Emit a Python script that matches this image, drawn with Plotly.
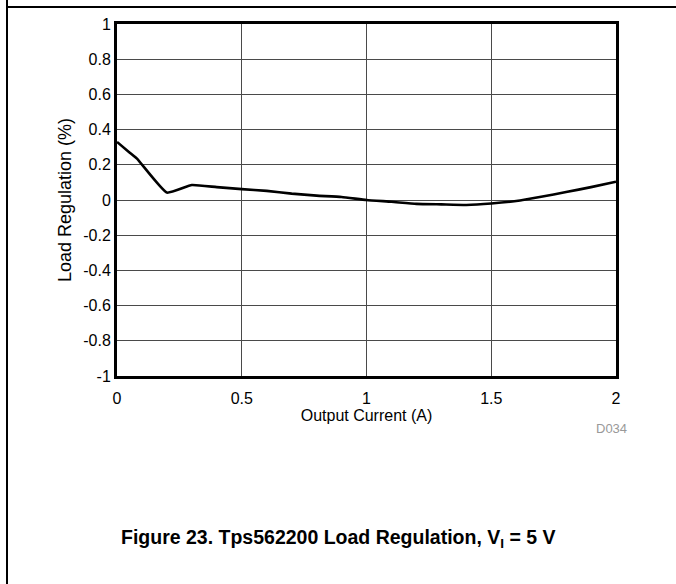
import plotly.graph_objects as go

# Load regulation vs. output current
current_a = [0, 0.05, 0.08, 0.2, 0.3, 0.4, 0.5, 0.6, 0.7, 0.8, 0.9, 1.0,
             1.1, 1.2, 1.3, 1.4, 1.5, 1.6, 1.7, 1.8, 1.9, 2.0]
load_reg_pct = [0.33, 0.27, 0.235, 0.042, 0.085, 0.073, 0.062, 0.052, 0.036,
                0.025, 0.017, 0.0, -0.01, -0.022, -0.025, -0.028, -0.02,
                -0.006, 0.018, 0.045, 0.073, 0.104]

x_ticks = [0, 0.5, 1, 1.5, 2]
x_tick_text = ["0", "0.5", "1", "1.5", "2"]
y_ticks = [1, 0.8, 0.6, 0.4, 0.2, 0, -0.2, -0.4, -0.6, -0.8, -1]
y_tick_text = ["1", "0.8", "0.6", "0.4", "0.2", "0", "-0.2", "-0.4", "-0.6", "-0.8", "-1"]

FONT = "Arial, Liberation Sans, sans-serif"

fig = go.Figure()
fig.add_trace(go.Scatter(
    x=current_a, y=load_reg_pct, mode="lines",
    line=dict(color="black", width=2.6, shape="spline", smoothing=0.4),
    showlegend=False, hoverinfo="skip",
))

axis_common = dict(
    showline=True, linecolor="black", linewidth=3, mirror=True,
    showgrid=True, gridcolor="#4a4a4a", gridwidth=1,
    zeroline=False, ticks="", tickfont=dict(family=FONT, size=16, color="black"),
)

fig.update_xaxes(range=[0, 2], tickvals=x_ticks, ticktext=x_tick_text,
                 ticklabelstandoff=6,
                 title=dict(text="Output Current (A)", standoff=0,
                            font=dict(family=FONT, size=16, color="black")),
                 **axis_common)
fig.update_yaxes(range=[-1, 1], tickvals=y_ticks, ticktext=y_tick_text,
                 ticklabelstandoff=0,
                 title=dict(text="Load Regulation (%)", standoff=7,
                            font=dict(family=FONT, size=18, color="black")),
                 **axis_common)

L, R, T, B = 117, 60, 24, 208
W, H = 676, 584
pw, ph = W - L - R, H - T - B


def px(x):
    return (x - L) / pw


def py(y):
    return (H - B - y) / ph


# page frame lines
fig.add_shape(type="line", xref="paper", yref="paper",
              x0=px(7), x1=px(676), y0=py(7), y1=py(7),
              line=dict(color="black", width=2))
fig.add_shape(type="line", xref="paper", yref="paper",
              x0=px(7), x1=px(7), y0=py(0), y1=py(584),
              line=dict(color="black", width=2))

fig.add_annotation(xref="paper", yref="paper", x=px(629), y=py(438),
                   text="D034", showarrow=False,
                   font=dict(family=FONT, size=13, color="#999999"))
fig.add_annotation(xref="paper", yref="paper", x=px(338), y=py(553),
                   text="<b>Figure 23. Tps562200 Load Regulation, V<sub>I</sub> = 5 V</b>",
                   showarrow=False,
                   font=dict(family=FONT, size=19.5, color="black"))

fig.update_layout(
    width=W, height=H,
    margin=dict(l=L, r=R, t=T, b=B, pad=0),
    paper_bgcolor="white", plot_bgcolor="white",
    font=dict(family=FONT),
)

fig.write_html("out.html")
